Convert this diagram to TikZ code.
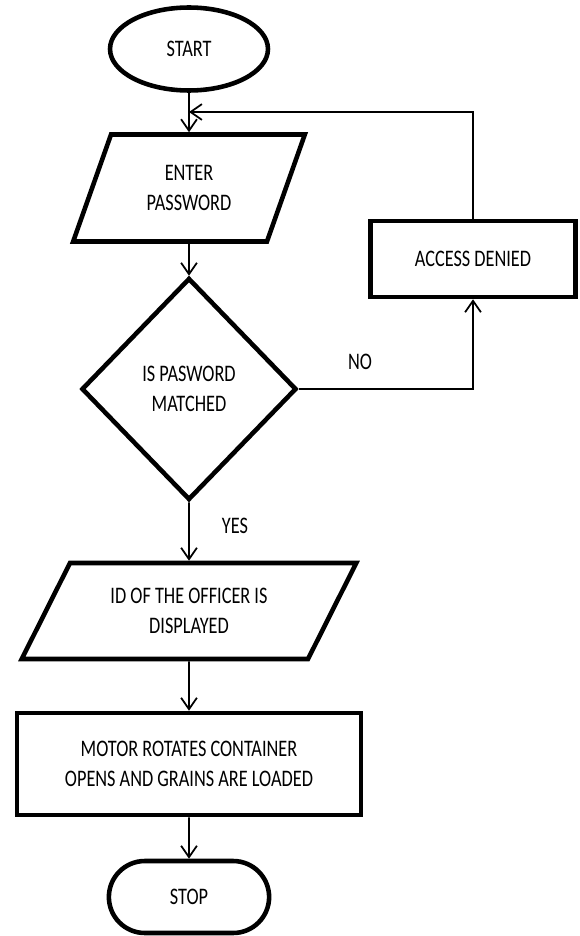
\documentclass[tikz,border=0pt]{standalone}
\usepackage{fontspec}
\setmainfont{Carlito}[FakeStretch=0.77]
\usetikzlibrary{shapes.geometric}
\usetikzlibrary{shapes.misc}
\usetikzlibrary{arrows.meta}

\begin{document}
\begin{tikzpicture}[x=0.02cm, y=-0.02cm,
font=\fontsize{13.5}{17.5}\selectfont,
every node/.style = {align = center},
box/.style = {draw, line width = 2.6pt},
terminal/.style = {box, ellipse, minimum width = 3.16cm, minimum height = 1.66cm, inner sep = 0pt},
stopbox/.style = {box, rounded rectangle, minimum width = 3.44cm, minimum height = 1.44cm},
io/.style = {box, trapezium, trapezium stretches = true, inner sep = 0pt},
decision/.style = {box, diamond, minimum width = 4.3cm, minimum height = 4.44cm, inner sep = 0pt},
process/.style = {box, rectangle},
flow/.style = {line width = 1pt, -{Straight Barb[length = 6.5pt, width = 9pt]}}]

\useasboundingbox (0, 0) rectangle (579, 936);

\node[terminal] (start) at (189, 49) {START};
\node[io, trapezium left angle = 66, trapezium right angle = 114,
  minimum width = 4.66cm, minimum height = 2.14cm] (password) at (189, 188) {ENTER\\PASSWORD};
\node[decision] (check) at (189, 389) {IS PASWORD\\MATCHED};
\node[process, minimum width = 4.1cm, minimum height = 1.52cm] (denied) at (473, 259) {ACCESS DENIED};
\node[io, trapezium left angle = 55.5, trapezium right angle = 124.5,
  minimum width = 6.7cm, minimum height = 1.92cm] (officer) at (189, 611) {ID OF THE OFFICER IS\\DISPLAYED};
\node[process, minimum width = 6.88cm, minimum height = 2.04cm] (motor) at (189, 764) {MOTOR ROTATES CONTAINER\\OPENS AND GRAINS ARE LOADED};
\node[stopbox] (stop) at (189, 897) {STOP};

\node (no) at (360, 362) {NO};
\node (yes) at (235, 526) {YES};
\coordinate (join) at (189, 112);

\draw[flow] (start) -- (password);
\draw[flow] (denied.north) |- (join);
\draw[flow] (password) -- (check);
\draw[flow] (check.east) -| (denied.south);
\draw[flow] (check) -- (officer);
\draw[flow] (officer) -- (motor);
\draw[flow] (motor) -- (stop);

\end{tikzpicture}
\end{document}
